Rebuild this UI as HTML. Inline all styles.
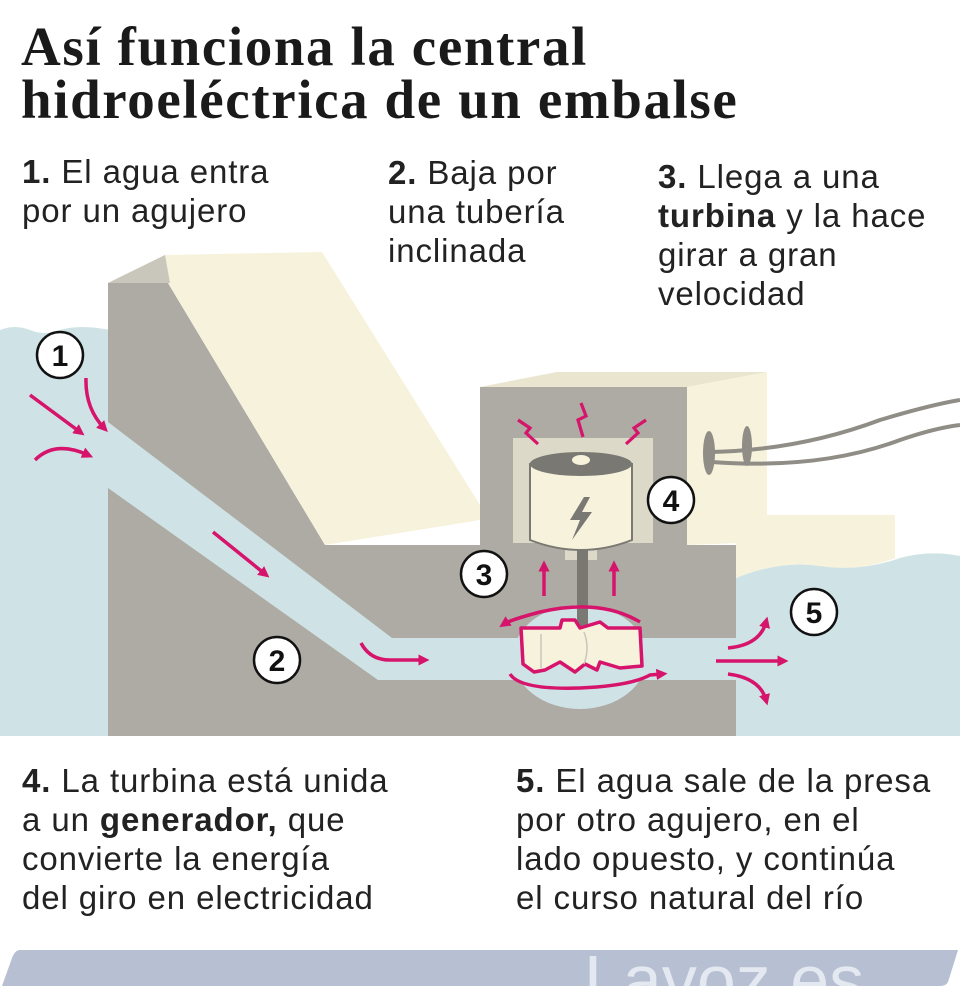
<!DOCTYPE html>
<html><head><meta charset="utf-8"><style>
html,body{margin:0;padding:0;background:#fff;}
body{width:960px;height:989px;overflow:hidden;position:relative;font-family:"Liberation Sans","DejaVu Sans",sans-serif;color:#1a1a1a;}
.t{position:absolute;font-family:"Liberation Serif","DejaVu Serif",serif;font-weight:bold;font-size:55px;line-height:53px;left:21px;top:20px;letter-spacing:1.6px;}
.s{position:absolute;font-size:33px;line-height:39px;color:#222;letter-spacing:0.9px;white-space:nowrap;}
.s b{font-weight:bold;}
svg{position:absolute;left:0;top:0;}
</style></head><body>
<svg width="960" height="989" viewBox="0 0 960 989">
<defs>
<marker id="ah" viewBox="0 0 10 10" refX="5" refY="5" markerWidth="3.2" markerHeight="3.2" orient="auto"><path d="M0,0L10,5L0,10z" fill="#d6146b"/></marker>
<clipPath id="bar"><path d="M20,950 L958,950 L948,982 Q946,986 940,986 L2,986 L12,958 Q15,950 20,950z"/></clipPath>
</defs>
<path d="M0,330 Q15,324 30,330 Q45,336 60,330 Q80,324 110,330 L110,736 L0,736z" fill="#cfe3e6"/>
<path d="M736,578 Q780,560 820,566 Q860,572 900,558 Q930,550 960,556 L960,736 L736,736z" fill="#cfe3e6"/>
<path d="M736,545 L736,515 L895,515 L895,558 Q860,572 820,566 Q780,560 736,578z" fill="#f6f2dc"/>
<path d="M108,283 L168,283 L325,545 L480,545 L480,387 L687,387 L687,545 L736,545 L736,736 L108,736z" fill="#adaba3"/>
<path d="M108,283 L165,255 L322,252 L480,505 L480,520 L325,545 L168,283z" fill="#f6f2dc"/>
<path d="M108,283 L165,255 L170,283z" fill="#c9c6bc"/>
<path d="M480,387 L557,372 L767,372 L687,387z" fill="#e9e5cf"/>
<path d="M687,387 L767,372 L767,542 L687,545z" fill="#f6f2dc"/>
<path d="M712,452 Q800,450 880,420 Q930,405 960,400" stroke="#8f8d86" stroke-width="4" fill="none"/>
<path d="M712,462 Q820,470 900,440 Q935,428 960,425" stroke="#8f8d86" stroke-width="4" fill="none"/>
<ellipse cx="709" cy="453" rx="6" ry="22" fill="#8f8d86"/>
<ellipse cx="747" cy="446" rx="5" ry="20" fill="#8f8d86"/>
<path d="M108,422 L392,638 L736,638 L736,680 L378,680 L108,488z" fill="#cfe3e6"/>
<ellipse cx="580" cy="657" rx="67" ry="52" fill="#cfe3e6"/>
<rect x="513" y="438" width="140" height="105" fill="#dcd9c8"/>
<path d="M565,543 L565,560 L597,560 L597,543z" fill="#dcd9c8"/>
<rect x="577" y="548" width="11" height="78" fill="#7a7872"/>
<path d="M530,464 L530,540 Q581,560 632,540 L632,464z" fill="#f6f2dc" stroke="#7a7872" stroke-width="2"/>
<ellipse cx="581" cy="464" rx="51" ry="12" fill="#7a7872"/>
<ellipse cx="581" cy="460" rx="9" ry="5" fill="#f6f2dc"/>
<path d="M584,497 L570,520 L580,520 L572,540 L592,512 L582,512 L590,497z" fill="#7a7872"/>
<!-- turbine -->
<path d="M521,628 L560,628 L562,620 L575,620 L580,628 L600,622 L608,628 L640,628 L642,666 L620,668 L600,662 L597,670 L585,664 L575,672 L560,662 L545,670 L534,672 L523,664z" fill="#f6f2dc" stroke="#d6146b" stroke-width="3.5" stroke-linejoin="round"/>
<path d="M541,634 L541,668 M584,632 Q590,648 584,664" stroke="#c9c6bc" stroke-width="1.5" fill="none"/>
<g fill="none" stroke="#d6146b" stroke-width="3.5">
<path d="M640,622 Q600,598 540,612 Q510,620 504,624" marker-end="url(#ah)"/>
<path d="M510,674 Q520,690 580,688 Q630,686 650,675 L662,674" marker-end="url(#ah)"/>
<path d="M544,596 L544,566" marker-end="url(#ah)"/>
<path d="M614,596 L614,566" marker-end="url(#ah)"/>
<path d="M30,395 L80,432" marker-end="url(#ah)"/>
<path d="M86,378 Q85,408 104,428" marker-end="url(#ah)"/>
<path d="M35,460 Q55,440 88,455" marker-end="url(#ah)"/>
<path d="M213,532 L265,574" marker-end="url(#ah)"/>
<path d="M361,643 Q370,660 390,660 L424,660" marker-end="url(#ah)"/>
<path d="M716,661 L783,661" marker-end="url(#ah)"/>
<path d="M728,648 Q760,645 766,622" marker-end="url(#ah)"/>
<path d="M728,674 Q760,678 766,700" marker-end="url(#ah)"/>
</g>
<g fill="none" stroke="#d6146b" stroke-width="3.2" stroke-linejoin="miter">
<path d="M518,420 L530,428 L526,433 L538,444"/>
<path d="M581,403 L586,416 L578,420 L583,437"/>
<path d="M646,420 L634,428 L638,433 L626,444"/>
</g>
<g fill="#fff" stroke="#111" stroke-width="2.5">
<circle cx="60" cy="355" r="23"/><circle cx="277" cy="660" r="23"/><circle cx="484" cy="574" r="23"/><circle cx="671" cy="500" r="23"/><circle cx="814" cy="612" r="23"/>
</g>
<g font-family="Liberation Sans,sans-serif" font-size="30" font-weight="bold" text-anchor="middle" fill="#111">
<text x="60" y="366">1</text><text x="277" y="671">2</text><text x="484" y="585">3</text><text x="671" y="511">4</text><text x="814" y="623">5</text>
</g>
<path d="M20,950 L958,950 L948,982 Q946,986 940,986 L2,986 L12,958 Q15,950 20,950z" fill="#b6c0d2"/>
<g clip-path="url(#bar)"><text x="584" y="1004" font-family="Liberation Sans,sans-serif" font-size="70" fill="#e4e8f0">Lavoz.es</text></g>
</svg>
<div class="t">Así funciona la central<br>hidroeléctrica de un embalse</div>
<div class="s" style="left:22px;top:152px;"><b>1.</b> El agua entra<br>por un agujero</div>
<div class="s" style="left:388px;top:153px;"><b>2.</b> Baja por<br>una tubería<br>inclinada</div>
<div class="s" style="left:658px;top:157px;"><b>3.</b> Llega a una<br><b>turbina</b> y la hace<br>girar a gran<br>velocidad</div>
<div class="s" style="left:22px;top:761px;"><b>4.</b> La turbina está unida<br>a un <b>generador,</b> que<br>convierte la energía<br>del giro en electricidad</div>
<div class="s" style="left:516px;top:761px;"><b>5.</b> El agua sale de la presa<br>por otro agujero, en el<br>lado opuesto, y continúa<br>el curso natural del río</div>
</body></html>
